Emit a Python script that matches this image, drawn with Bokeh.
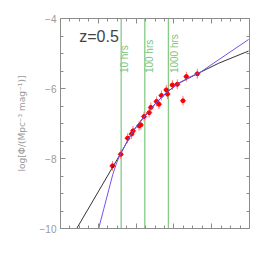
from bokeh.plotting import figure
from bokeh.models import LinearAxis, FixedTicker, ColumnDataSource, Range1d
from bokeh.core.properties import value
from bokeh.embed import file_html
from bokeh.resources import INLINE

# ---- data ----
mag = [-25.25, -24.81, -24.45, -24.24, -24.16, -23.84, -23.75, -23.58, -23.31, -23.22,
       -22.92, -22.79, -22.66, -22.40, -22.34, -22.08, -21.82, -21.52, -21.34, -20.76]
logphi = [-8.21, -7.88, -7.42, -7.30, -7.21, -7.07, -7.04, -6.80, -6.69, -6.54,
          -6.37, -6.45, -6.20, -6.04, -6.16, -5.90, -5.88, -6.35, -5.66, -5.58]
err_y = [0.14] * len(mag)
err_x = [0.17] * len(mag)

black_mag = [-27.13, -25.97, -24.81, -24.17, -23.59, -22.96, -22.38, -21.75, -20.80, -19.64, -18.05]
black_phi = [-9.99, -8.92, -7.85, -7.22, -6.82, -6.42, -6.11, -5.85, -5.59, -5.28, -4.93]

purple_mag = [-25.98, -25.70, -25.44, -25.23, -25.02, -24.81, -24.17, -23.59, -22.96, -22.38, -21.75, -21.10, -20.59, -18.05]
purple_phi = [-10.0, -9.42, -8.88, -8.45, -8.11, -7.85, -7.22, -6.82, -6.42, -6.11, -5.85, -5.66, -5.53, -4.60]

depth_mag = [-24.79, -23.54, -22.29]
depth_labels = ["10 hrs", "100 hrs", "1000 hrs"]
label_mag = [-24.63, -23.31, -21.99]
label_phi = [-5.56, -5.56, -5.56]

y_ticks = [-10, -8, -6, -4]
y_tick_labels = {-10: "\u221210", -8: "\u22128", -6: "\u22126", -4: "\u22124"}
x_ticks = [-28, -26, -24, -22, -20, -18]

redshift_label = "z=0.5"

# ---- figure ----
p = figure(width=258, height=258, output_backend="svg", toolbar_location=None,
           x_range=Range1d(-28, -18), y_range=Range1d(-10, -4),
           min_border_left=60, min_border_right=9, min_border_top=18, min_border_bottom=30)
p.xgrid.visible = False
p.ygrid.visible = False
p.background_fill_color = "white"
p.outline_line_color = "#8c8c8c"

axis_color = "#8c8c8c"
xmin = [x + 0.5 * k for x in x_ticks[:-1] for k in range(1, 4)]
ymin = [y + 0.5 * k for y in y_ticks[:-1] for k in range(1, 4)]

def style(ax, ticks, minors, labels=False):
    ax.ticker = FixedTicker(ticks=ticks, minor_ticks=minors)
    ax.axis_line_color = axis_color
    ax.major_tick_line_color = axis_color
    ax.minor_tick_line_color = axis_color
    ax.major_tick_in = 5
    ax.major_tick_out = 0
    ax.minor_tick_in = 3
    ax.minor_tick_out = 0
    if not labels:
        ax.major_label_overrides = {t: "" for t in ticks}
        ax.major_label_standoff = 0

style(p.xaxis[0], x_ticks, xmin)
style(p.yaxis[0], y_ticks, ymin, labels=True)
p.yaxis[0].major_label_overrides = y_tick_labels
p.yaxis[0].major_label_text_color = "#9a9a9a"
p.yaxis[0].major_label_text_font = "Liberation Sans"
p.yaxis[0].major_label_text_font_size = "10px"
p.yaxis[0].major_label_standoff = 4
p.yaxis[0].axis_label = "log[\u03a6/(Mpc\u207b\u00b3 mag\u207b\u00b9)]"
p.yaxis[0].axis_label_text_font = "DejaVu Sans"
p.yaxis[0].axis_label_text_font_size = "9px"
p.yaxis[0].axis_label_text_font_style = "normal"
p.yaxis[0].axis_label_text_color = "#9a9a9a"
p.yaxis[0].axis_label_standoff = 10

top = LinearAxis()
style(top, x_ticks, xmin)
p.add_layout(top, "above")
right = LinearAxis()
style(right, y_ticks, ymin)
p.add_layout(right, "right")

# depth lines
for m in depth_mag:
    p.segment(x0=[m], y0=[-10], x1=[m], y1=[-4], line_color="#86cc86", line_width=1.3)

p.text(x=label_mag, y=label_phi, text=depth_labels, angle=1.5708,
       text_align="left", text_baseline="middle", text_color="#7cc47c",
       text_font=value("Liberation Sans"), text_font_size="10px")

p.text(x=[-27.01], y=[-4.52], text=[redshift_label], text_align="left",
       text_baseline="alphabetic", text_color="#444444",
       text_font=value("Liberation Sans"), text_font_size="16px")

# error bars and points
src = ColumnDataSource(dict(
    x=mag, y=logphi,
    x0=[m - e for m, e in zip(mag, err_x)], x1=[m + e for m, e in zip(mag, err_x)],
    y0=[v - e for v, e in zip(logphi, err_y)], y1=[v + e for v, e in zip(logphi, err_y)]))
p.segment(x0="x", y0="y0", x1="x", y1="y1", source=src, line_color="#ff7a7a", line_width=1)
p.segment(x0="x0", y0="y", x1="x1", y1="y", source=src, line_color="#ff7a7a", line_width=1)
p.scatter(x="x", y="y", source=src, size=4, fill_color="#ff0000", line_color="#ff0000")

# model curves
p.line(black_mag, black_phi, line_color="#333333", line_width=1)
p.line(purple_mag, purple_phi, line_color="#7a50e8", line_width=1)

open("out.html", "w").write(file_html(p, INLINE))
